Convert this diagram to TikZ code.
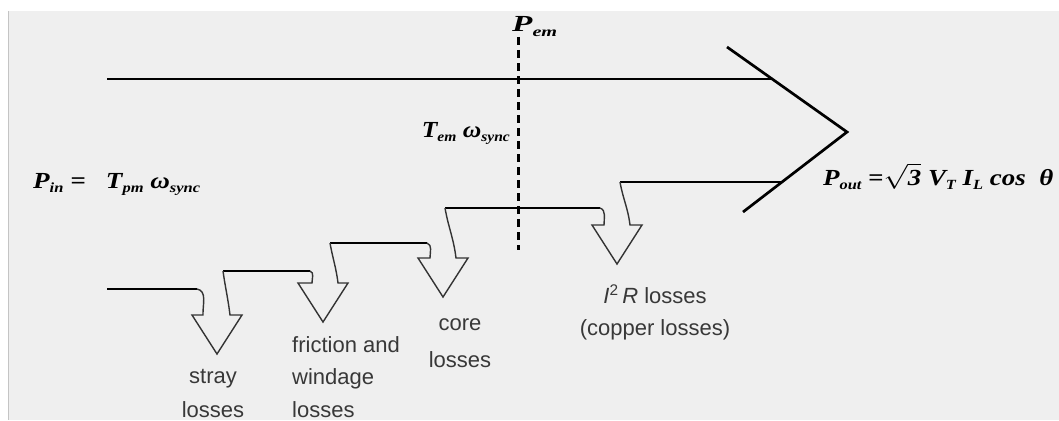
\documentclass[tikz,border=0pt]{standalone}
\usepackage{fontspec}
\setmainfont{Liberation Serif}
\newfontfamily\arialf{Liberation Sans}
\usepackage{graphicx}
\definecolor{bgc}{HTML}{EFEFEF}
\definecolor{edgec}{HTML}{C4C4C4}
\newcommand\sbs[1]{\raisebox{-0.2em}{\fontsize{14}{14}\selectfont #1}}
\tikzset{
  flowline/.style={line width=2.7pt, draw=black},
  lossarrow/.style={line width=1.4pt, draw=black!80, line join=miter},
  dashline/.style={line width=3pt, draw=black, dash pattern=on 8pt off 5pt},
  formula/.style={font=\fontsize{23}{26}\selectfont\bfseries\itshape, inner sep=0pt, text=black},
  losslabel/.style={font=\arialf\fontsize{22}{#1}\selectfont, text=black!78, inner sep=0pt},
}
\begin{document}
\begin{tikzpicture}[x=1pt,y=-1pt]
\useasboundingbox (0,0) rectangle (1059,420);
\fill[white] (0,0) rectangle (1059,420);
\fill[bgc] (8,11) rectangle (1059,420);
\draw[edgec, line width=1pt] (8.5,11) -- (8.5,420);

% main flow arrow
\coordinate (t0) at (107,79);
\coordinate (t1) at (772,79);
\coordinate (hu) at (727,47);
\coordinate (apex) at (847,132);
\coordinate (hl) at (743,212);
\draw[flowline] (t0) -- (t1);
\draw[flowline, line join=miter] (hu) -- (apex) -- (hl);

% staircase lines
\coordinate (s0) at (107,289);  \coordinate (s0e) at (197,289);
\coordinate (s1) at (223,271);  \coordinate (s1e) at (310,271);
\coordinate (s2) at (330,243);  \coordinate (s2e) at (427,243);
\coordinate (s3) at (445,208);  \coordinate (s3e) at (600,208);
\coordinate (s4) at (620,182);  \coordinate (s4e) at (782,182);
\draw[flowline] (s0) -- (s0e);
\draw[flowline] (s1) -- (s1e);
\draw[flowline] (s2) -- (s2e);
\draw[flowline] (s3) -- (s3e);
\draw[flowline] (s4) -- (s4e);

% loss arrows
\draw[lossarrow] (s0e) to[out=-10,in=92] (203,315) -- (192,315) -- (217,354) -- (242,315) -- (230,315) to[out=97,in=-82] (s1);
\draw[lossarrow] (s1e) to[out=-20,in=90] (312,283) -- (298,283) -- (323,322) -- (348,283) -- (338,283) to[out=97,in=-80] (s2);
\draw[lossarrow] (s2e) to[out=-20,in=90] (430,258) -- (418,258) -- (443,297) -- (468,258) -- (456,258) to[out=97,in=-80] (s3);
\draw[lossarrow] (s3e) to[out=-20,in=90] (604,225) -- (592,225) -- (617,264) -- (642,225) -- (630,225) to[out=97,in=-80] (s4);

% dashed air-gap line
\coordinate (d0) at (518,37);
\coordinate (d1) at (518,250);
\draw[dashline] (d0) -- (d1);

% formulas
\node[formula, anchor=base west] (pin) at (33,188)
  {\resizebox{167pt}{\height}{P\sbs{in} =\ \ \ T\sbs{pm} ω\sbs{sync}}};
\node[formula, anchor=base east] (tem) at (510,137)
  {\resizebox{88pt}{\height}{T\sbs{em} ω\sbs{sync}}};
\node[formula, anchor=base west] (pem) at (512,32)
  {\resizebox{45pt}{\height}{P\sbs{em}}};
\node[formula, anchor=base west] (pout) at (823,185)
  {\resizebox{230pt}{\height}{P\sbs{out} =$\sqrt{\mbox{3}}$ V\sbs{T} I\sbs{L} cos \ θ}};

% loss labels
\node[losslabel=34, align=center, anchor=north] (stray) at (213,359.2)
  {\strut stray\\\strut losses};
\node[losslabel=32.5, align=left, anchor=north west] (fric) at (292,329.3)
  {\strut friction and\\\strut windage\\\strut losses};
\node[losslabel=37, align=center, anchor=north] (core) at (460,304.1)
  {\strut core\\\strut losses};
\node[losslabel=32, align=center, anchor=north] (copper) at (655,280.6)
  {\strut\textit{I}\textsuperscript{2}\,\textit{R} losses\\\strut(copper losses)};
\end{tikzpicture}
\end{document}
